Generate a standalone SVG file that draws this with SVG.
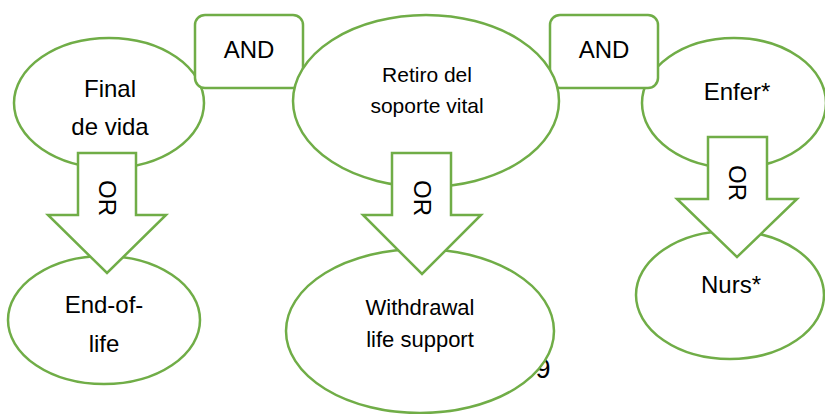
<svg xmlns="http://www.w3.org/2000/svg" width="825" height="414" viewBox="0 0 825 414">
<style>
.sh{fill:#fff;stroke:#70AD47;stroke-width:2.5}
.t{font-family:"Liberation Sans",Arial,sans-serif;fill:#000;text-anchor:middle}
.l{font-size:24px}
.s{font-size:21px}
.w{font-size:22px}
</style>
<rect width="825" height="414" fill="#fff"/>
<text class="t" x="543" y="378" font-size="27">9</text>
<g id="final"><ellipse class="sh" cx="109" cy="103" rx="95" ry="65"/><text class="t l" x="110" y="97">Final</text><text class="t l" x="110" y="135">de vida</text></g>
<g id="enfer"><ellipse class="sh" cx="734" cy="103" rx="92" ry="65"/><text class="t l" x="737" y="100">Enfer*</text></g>
<g id="and1"><rect class="sh" x="195" y="15" width="108" height="73" rx="10"/><text class="t l" x="249" y="58">AND</text></g>
<g id="and2"><rect class="sh" x="550" y="15" width="108" height="73" rx="10"/><text class="t l" x="604" y="58">AND</text></g>
<g id="retiro"><ellipse class="sh" cx="426" cy="101" rx="133" ry="86"/><text class="t s" x="427" y="82">Retiro del</text><text class="t s" x="427" y="113">soporte vital</text></g>
<g id="endoflife"><ellipse class="sh" cx="104" cy="320" rx="96" ry="64"/><text class="t l" x="104" y="313">End-of-</text><text class="t l" x="104" y="352">life</text></g>
<g id="withdrawal"><ellipse class="sh" cx="420" cy="331" rx="134" ry="82"/><text class="t w" x="420" y="315">Withdrawal</text><text class="t w" x="420" y="347">life support</text></g>
<g id="nurs"><ellipse class="sh" cx="730" cy="295" rx="94" ry="64"/><text class="t l" x="731" y="293">Nurs*</text></g>
<g id="connectors">
<polygon class="sh" points="78,153 136,153 136,215 166,215 107,273 48,215 78,215"/>
<text class="t l" transform="translate(107,198) rotate(90)" dominant-baseline="central">OR</text>
<polygon class="sh" points="392,153 451,153 451,215 481,215 422,274 363,215 392,215"/>
<text class="t l" transform="translate(422,198) rotate(90)" dominant-baseline="central">OR</text>
<polygon class="sh" points="708,137 767,137 767,199 797,199 737,257 677,199 708,199"/>
<text class="t l" transform="translate(737,183) rotate(90)" dominant-baseline="central">OR</text>
</g>
</svg>
